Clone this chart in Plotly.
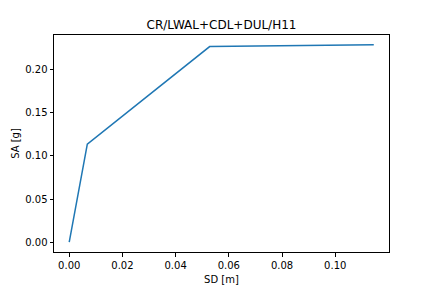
import plotly.graph_objects as go

sd = [0.0, 0.0068, 0.0528, 0.1145]
sa = [0.0, 0.1138, 0.2270, 0.2290]
title = "CR/LWAL+CDL+DUL/H11"
xticks = [0.0, 0.02, 0.04, 0.06, 0.08, 0.10]
yticks = [0.0, 0.05, 0.10, 0.15, 0.20]

xmin, xmax = min(sd), max(sd)
ymin, ymax = min(sa), max(sa)
xm = (xmax - xmin) * 0.05
ym = (ymax - ymin) * 0.05

fig = go.Figure(go.Scatter(x=sd, y=sa, mode="lines",
                           line=dict(color="#1f77b4", width=1.5)))
axis_common = dict(showline=True, linecolor="black", linewidth=1, mirror=True,
                   ticks="outside", ticklen=3.5, tickwidth=1, tickcolor="black",
                   showgrid=False, zeroline=False, automargin=False,
                   tickfont=dict(family="DejaVu Sans", size=10, color="black"))
fig.update_layout(
    width=432, height=288,
    margin=dict(l=54, r=43, t=35, b=36, autoexpand=False),
    paper_bgcolor="white", plot_bgcolor="white",
    showlegend=False,
    title=dict(text=title, x=0.5, xanchor="center", xref="paper",
               y=1 - 25 / 288, yanchor="middle",
               font=dict(family="DejaVu Sans", size=12, color="black")),
    xaxis=dict(range=[xmin - xm, xmax + xm], tickvals=xticks,
               ticktext=[f"{v:.2f}" for v in xticks],
               title=dict(text="SD [m]", standoff=6,
                          font=dict(family="DejaVu Sans", size=10, color="black")),
               **axis_common),
    yaxis=dict(range=[ymin - ym, ymax + ym], tickvals=yticks,
               ticktext=[f"{v:.2f}" for v in yticks],
               title=dict(text="SA [g]", standoff=3,
                          font=dict(family="DejaVu Sans", size=10, color="black")),
               **axis_common),
)
fig.write_html("out.html")
